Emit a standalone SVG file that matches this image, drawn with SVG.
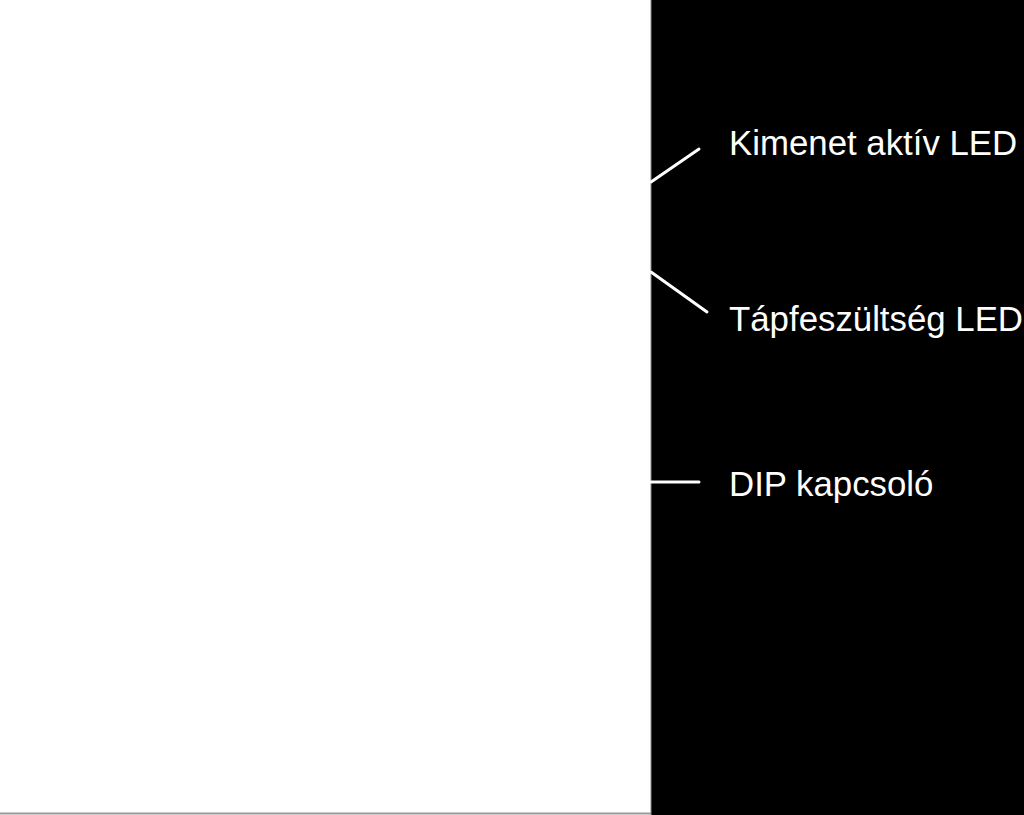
<svg xmlns="http://www.w3.org/2000/svg" width="1024" height="815" viewBox="0 0 1024 815">
<style>
.lbl{font-family:"Liberation Sans",Arial,Helvetica,sans-serif;font-size:34.8px;fill:#ffffff}
.ld{stroke:#ffffff;stroke-width:3;fill:none;stroke-linecap:round}
</style>
<rect x="0" y="0" width="1024" height="815" fill="#ffffff"/>
<g id="panel">
<rect x="651" y="0" width="373" height="815" fill="#000000"/>
<line x1="651" y1="0" x2="651" y2="815" stroke="#888888" stroke-width="1"/>
<line x1="0" y1="813.5" x2="651" y2="813.5" stroke="#999999" stroke-width="2"/>
</g>
<g id="connectors">
<line class="ld" x1="651" y1="182" x2="699" y2="149"/>
<line class="ld" x1="651" y1="272" x2="707" y2="312"/>
<line class="ld" x1="651" y1="482" x2="699" y2="482"/>
</g>
<g id="label-kimenet"><text class="lbl" x="729" y="155">Kimenet aktív LED</text></g>
<g id="label-tap"><text class="lbl" x="729" y="331">Tápfeszültség LED</text></g>
<g id="label-dip"><text class="lbl" x="729" y="496">DIP kapcsoló</text></g>
</svg>
